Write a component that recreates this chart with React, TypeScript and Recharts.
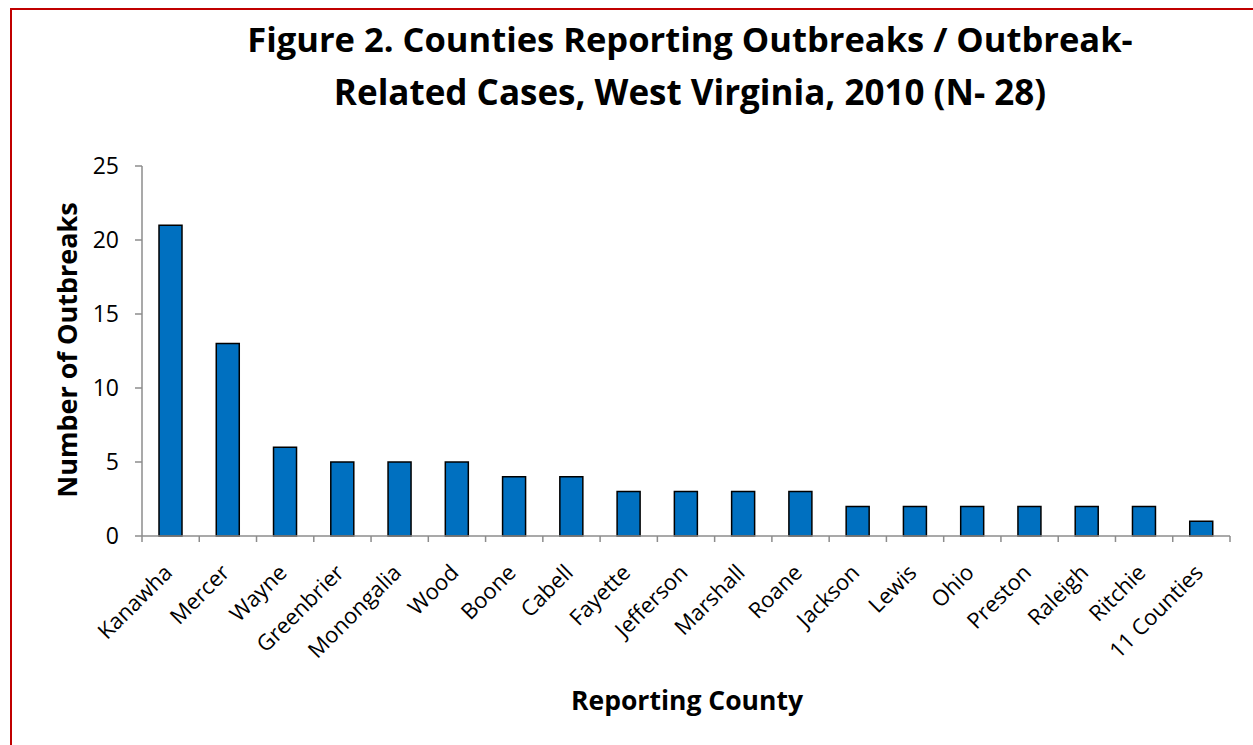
import React from "react";
import { BarChart, Bar, XAxis, YAxis } from "recharts";

const counties = [
  "Kanawha", "Mercer", "Wayne", "Greenbrier", "Monongalia", "Wood", "Boone", "Cabell",
  "Fayette", "Jefferson", "Marshall", "Roane", "Jackson", "Lewis", "Ohio", "Preston",
  "Raleigh", "Ritchie", "11 Counties",
];
const outbreaks = [21, 13, 6, 5, 5, 5, 4, 4, 3, 3, 3, 3, 2, 2, 2, 2, 2, 2, 1];
const yTicks = [0, 5, 10, 15, 20, 25];
const titleLines = [
  "Figure 2. Counties Reporting Outbreaks / Outbreak-",
  "Related Cases, West Virginia, 2010 (N- 28)",
];

const data = counties.map((c, i) => ({ county: c, value: outbreaks[i] }));

const FONT = "'Open Sans', sans-serif";
const PLOT_LEFT = 142;
const PLOT_RIGHT = 1230;
const STEP = (PLOT_RIGHT - PLOT_LEFT) / counties.length;

const XTick = (props: any) => {
  const { x, y, payload, index } = props;
  const isLast = index === counties.length - 1;
  const tx = x + 3;
  const ty = y + 38;
  return (
    <g>
      <line x1={x - STEP / 2} x2={x - STEP / 2} y1={y} y2={y + 6} stroke="#8c8c8c" strokeWidth={1.5} />
      {isLast && (
        <line x1={x + STEP / 2} x2={x + STEP / 2} y1={y} y2={y + 6} stroke="#8c8c8c" strokeWidth={1.5} />
      )}
      <text
        x={tx}
        y={ty}
        textAnchor="end"
        transform={`rotate(-45, ${tx}, ${ty})`}
        fontSize={22}
        fontFamily={FONT}
        fill="#000"
      >
        {payload.value}
      </text>
    </g>
  );
};

export default function App() {
  return (
    <div style={{ position: "absolute", left: 0, top: 0, width: 1253, height: 745, background: "#fff", overflow: "hidden" }}>
      <div style={{ position: "absolute", left: 10, top: 8, width: 1300, height: 800, borderLeft: "2px solid #c00000", borderTop: "2px solid #c00000" }} />
      <div style={{ position: "absolute", left: 0, top: 0 }}>
        <BarChart
          width={1253}
          height={745}
          data={data}
          margin={{ top: 166, right: 1253 - PLOT_RIGHT, bottom: 79, left: PLOT_LEFT - 60 }}
          barCategoryGap={0}
        >
          <XAxis
            dataKey="county"
            interval={0}
            tickLine={false}
            tickSize={0}
            tickMargin={0}
            height={130}
            axisLine={{ stroke: "#8c8c8c", strokeWidth: 1.5 }}
            tick={<XTick />}
          />
          <YAxis
            width={60}
            domain={[0, 25]}
            ticks={yTicks}
            interval={0}
            tickSize={7}
            tickMargin={16}
            axisLine={{ stroke: "#8c8c8c", strokeWidth: 1.5 }}
            tickLine={{ stroke: "#8c8c8c", strokeWidth: 1.5 }}
            tick={{ fontSize: 23, fontFamily: FONT, fill: "#000" }}
          />
          <Bar dataKey="value" fill="#0070c0" stroke="#000" strokeWidth={1.5} barSize={23} isAnimationActive={false} />
        </BarChart>
      </div>
      <svg width={1253} height={745} style={{ position: "absolute", left: 0, top: 0, pointerEvents: "none" }}>
        <text x={690} y={52} textAnchor="middle" fontFamily={FONT} fontWeight={700} fontSize={34.5} fill="#000">
          {titleLines[0]}
        </text>
        <text x={690} y={105} textAnchor="middle" fontFamily={FONT} fontWeight={700} fontSize={35} fill="#000">
          {titleLines[1]}
        </text>
        <text
          x={77}
          y={350}
          textAnchor="middle"
          transform="rotate(-90, 77, 350)"
          fontFamily={FONT}
          fontWeight={700}
          fontSize={27}
          fill="#000"
        >
          Number of Outbreaks
        </text>
        <text x={687} y={710} textAnchor="middle" fontFamily={FONT} fontWeight={700} fontSize={26.5} fill="#000">
          Reporting County
        </text>
      </svg>
    </div>
  );
}
